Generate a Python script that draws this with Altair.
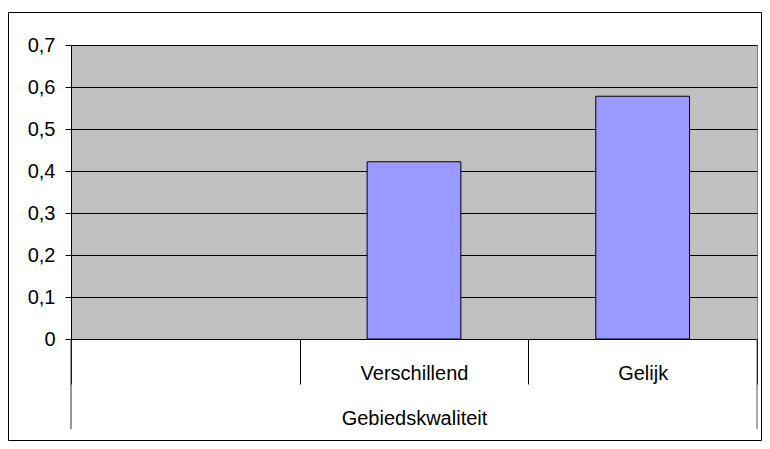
import altair as alt
import pandas as pd

categories = [" ", "Verschillend", "Gelijk"]
values = [None, 0.422, 0.578]
y_ticks = [0, 0.1, 0.2, 0.3, 0.4, 0.5, 0.6, 0.7]
x_title = "Gebiedskwaliteit"

df = pd.DataFrame({"cat": categories, "val": values})

W, H = 686, 294
FONT = "Liberation Sans"

bars = alt.Chart(df).mark_bar(
    width=alt.RelativeBandSize(0.41), color="#9999ff", stroke="black", strokeWidth=1
).encode(
    x=alt.X(
        "cat:N", sort=categories,
        scale=alt.Scale(paddingInner=0, paddingOuter=0),
        axis=alt.Axis(
            title=x_title, tickBand="extent", tickSize=45, tickColor="black",
            domainColor="black", labelAngle=0, labelFontSize=20, labelFont=FONT,
            labelColor="black", labelBaseline="alphabetic", labelPadding=-5,
            titleFontSize=20, titleFont=FONT, titleFontWeight="normal",
            titleColor="black", titleBaseline="alphabetic", titleY=85, grid=False,
        ),
    ),
    y=alt.Y(
        "val:Q",
        scale=alt.Scale(domain=[0, 0.7], nice=False),
        axis=alt.Axis(
            values=y_ticks, title=None, grid=True, gridColor="black", gridOpacity=1,
            tickColor="black", tickSize=6, domainColor="black",
            labelFontSize=20, labelFont=FONT, labelColor="black", labelPadding=10,
            labelExpr="datum.value == 0 ? '0' : replace(format(datum.value, '.1f'), '.', ',')",
        ),
    ),
)

one = pd.DataFrame({"a": [0]})
left_line = alt.Chart(one).mark_rule(color="#333333").encode(
    x=alt.value(0), y=alt.value(H), y2=alt.value(H + 90)
)
right_line = alt.Chart(one).mark_rule(color="#555555").encode(
    x=alt.value(W), y=alt.value(H), y2=alt.value(H + 90)
)
border = alt.Chart(one).mark_rect(fillOpacity=0, stroke="black", strokeWidth=1).encode(
    x=alt.value(-62.5), x2=alt.value(W + 4.5), y=alt.value(-32.5), y2=alt.value(H + 101.5)
)

chart = alt.layer(bars, left_line, right_line, border).properties(
    width=W, height=H,
    autosize=alt.AutoSizeParams(type="none"),
    padding={"left": 63, "top": 37, "right": 5, "bottom": 102},
).configure_view(fill="#c0c0c0", stroke="#808080")

chart.save("out.html", embed_options={"renderer": "svg", "actions": False})
